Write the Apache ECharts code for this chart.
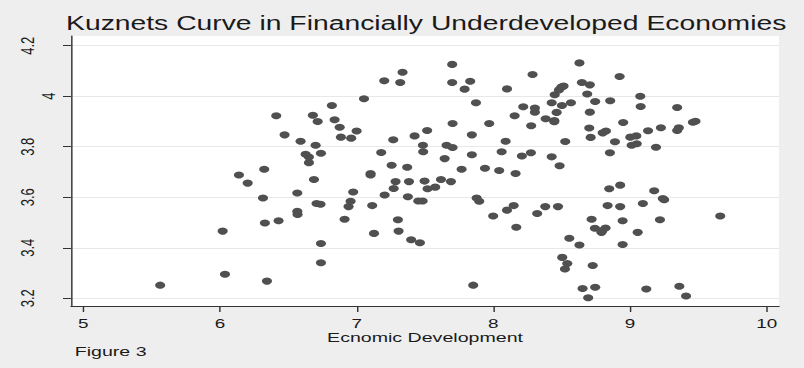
<!DOCTYPE html>
<html>
<head>
<meta charset="utf-8">
<script src="https://cdn.jsdelivr.net/npm/echarts@6/dist/echarts.min.js"></script>
<style>
  html, body { margin: 0; padding: 0; background: #eeeeee; overflow: hidden; }
  /* the original graph is stretched sideways, so draw narrow and stretch */
  #chart { width: 554px; height: 368px; transform: scaleX(1.4513); transform-origin: 0 0; }
</style>
</head>
<body>
<div id="chart"></div>
<script>
// Economic development (x) and the inequality measure (y)
const development = [
  5.563, 6.037, 6.344, 6.020, 6.329, 6.429, 6.739, 6.739, 6.315, 6.566,
  6.566, 6.568, 6.707, 6.736, 6.912, 6.941, 6.956, 6.975, 6.139, 6.203,
  6.324, 6.688, 6.651, 6.651, 6.627, 6.739, 6.700, 6.590, 6.473, 6.412,
  6.680, 6.715, 6.819, 6.839, 6.876, 6.885, 6.960, 7.000,
  7.054, 7.114, 7.127, 7.102, 7.102, 7.180, 7.205, 7.202, 7.319, 7.336,
  7.268, 7.256, 7.370, 7.285, 7.271, 7.375, 7.383, 7.302, 7.307, 7.399,
  7.463, 7.451, 7.483, 7.424, 7.485, 7.487, 7.516, 7.497, 7.519, 7.575,
  7.617, 7.690, 7.644, 7.658, 7.702, 7.702, 7.699, 7.699, 7.790, 7.831,
  7.873, 7.768, 7.843, 7.843, 7.878, 7.897, 7.853, 7.939, 7.970, 8.043,
  8.061, 8.090, 8.100, 8.163, 7.999, 8.100, 8.149, 8.168, 8.209, 8.275,
  8.156, 8.219, 8.277, 8.287, 8.304, 8.304, 8.383, 8.446, 8.446, 8.427,
  8.449, 8.480, 8.497, 8.514, 8.463, 8.502, 8.568, 8.526, 8.427, 8.485,
  8.321, 8.380, 8.473, 8.556, 8.630, 8.504, 8.541, 8.524, 8.653, 8.630,
  8.924, 8.648, 8.706, 8.687, 8.745, 8.855, 9.075, 9.078, 8.706, 9.345,
  8.950, 8.702, 8.712, 8.800, 8.824, 8.890, 8.853, 9.002, 9.046, 9.012,
  9.049, 9.132, 9.190, 9.226, 9.345, 9.357, 9.460, 9.479, 8.848, 8.928,
  9.177, 9.240, 9.250, 8.836, 8.928, 9.094, 8.719, 8.946, 9.219, 9.660,
  8.743, 8.791, 8.821, 8.797, 9.056, 8.946, 8.727, 8.745, 8.694, 9.119,
  9.361, 9.410
];
const inequality = [
  3.252, 3.295, 3.268, 3.466, 3.498, 3.507, 3.417, 3.341, 3.597, 3.617,
  3.544, 3.532, 3.575, 3.572, 3.513, 3.563, 3.584, 3.621, 3.688, 3.656,
  3.711, 3.670, 3.737, 3.759, 3.770, 3.774, 3.806, 3.822, 3.847, 3.923,
  3.925, 3.900, 3.963, 3.907, 3.877, 3.838, 3.834, 3.862,
  3.990, 3.567, 3.457, 3.694, 3.688, 3.777, 3.609, 4.061, 4.054, 4.095,
  3.828, 3.727, 3.719, 3.662, 3.635, 3.602, 3.662, 3.511, 3.466, 3.432,
  3.420, 3.585, 3.585, 3.843, 3.806, 3.780, 3.864, 3.664, 3.634, 3.640,
  3.670, 3.662, 3.753, 3.806, 3.797, 3.892, 4.126, 4.054, 4.028, 4.059,
  3.974, 3.711, 3.847, 3.768, 3.597, 3.584, 3.252, 3.715, 3.892, 3.706,
  3.780, 3.822, 4.029, 3.694, 3.526, 3.549, 3.567, 3.481, 3.763, 3.776,
  3.923, 3.958, 3.883, 4.086, 3.953, 3.937, 3.911, 3.904, 3.899, 3.974,
  4.006, 4.025, 4.036, 4.040, 3.936, 3.963, 3.974, 3.821, 3.760, 3.725,
  3.536, 3.563, 3.563, 3.438, 3.411, 3.362, 3.338, 3.316, 3.239, 4.132,
  4.078, 4.054, 4.045, 4.009, 3.979, 3.982, 4.000, 3.959, 3.937, 3.955,
  3.896, 3.874, 3.837, 3.855, 3.862, 3.820, 3.776, 3.838, 3.843, 3.806,
  3.812, 3.863, 3.798, 3.875, 3.864, 3.875, 3.897, 3.901, 3.634, 3.648,
  3.626, 3.595, 3.590, 3.567, 3.563, 3.575, 3.513, 3.507, 3.511, 3.526,
  3.477, 3.461, 3.478, 3.468, 3.461, 3.413, 3.330, 3.244, 3.202, 3.237,
  3.248, 3.209
];
const xTicks = [5, 6, 7, 8, 9, 10];
const yTicks = [3.2, 3.4, 3.6, 3.8, 4, 4.2];

const points = development.map((x, i) => [x, inequality[i]]);
const ink = "#1a1a1a";

const myChart = echarts.init(document.getElementById("chart"), null, { renderer: "svg" });
myChart.setOption({
  backgroundColor: "#eeeeee",
  animation: false,
  title: [
    {
      text: "Kuznets Curve in Financially Underdeveloped Economies",
      left: 45.5,
      top: 13,
      padding: 0,
      textStyle: { fontFamily: "Liberation Sans", fontSize: 19.5, fontWeight: "normal", color: ink },
    },
    {
      text: "Figure 3",
      left: 51.5,
      top: 345,
      padding: 0,
      textStyle: { fontFamily: "Liberation Sans", fontSize: 13.5, fontWeight: "normal", color: ink },
    },
  ],
  grid: {
    left: 48.9,
    right: 17.2,
    top: 36,
    bottom: 62,
    show: true,
    backgroundColor: "#ffffff",
    borderWidth: 0,
    outerBoundsMode: "none",
  },
  xAxis: {
    type: "value",
    min: 4.91,
    max: 10.09,
    name: "Ecnomic Development",
    nameLocation: "middle",
    nameGap: 25,
    nameMoveOverlap: false,
    nameTextStyle: { fontFamily: "Liberation Sans", fontSize: 13.5, color: ink },
    axisLine: { show: true, lineStyle: { color: "#333", width: 1 } },
    axisTick: { show: true, length: 6, customValues: xTicks, lineStyle: { color: "#333" } },
    axisLabel: {
      customValues: xTicks,
      margin: 11,
      fontFamily: "Liberation Sans",
      fontSize: 13,
      color: ink,
    },
    splitLine: { show: false },
  },
  yAxis: {
    type: "value",
    min: 3.1695,
    max: 4.2384,
    axisLine: { show: true, lineStyle: { color: "#333", width: 1 } },
    axisTick: { show: true, length: 5.5, customValues: yTicks, lineStyle: { color: "#333" } },
    axisLabel: {
      customValues: yTicks,
      rotate: 90,
      margin: 9.5,
      formatter: (v) => (v === 4 ? "{n|4}" : "{w|" + v + "}"),
      rich: {
        n: { fontFamily: "Liberation Sans", fontSize: 13, color: ink },
        w: { fontFamily: "Liberation Sans", fontSize: 13, color: ink, padding: [0, 0, 14, 0] },
      },
    },
    splitLine: { show: true, lineStyle: { color: "#e8e8e8", width: 1 } },
  },
  series: [
    {
      type: "scatter",
      data: points,
      symbol: "circle",
      symbolSize: 7,
      itemStyle: { color: "#505050", opacity: 1 },
    },
  ],
});
</script>
</body>
</html>
